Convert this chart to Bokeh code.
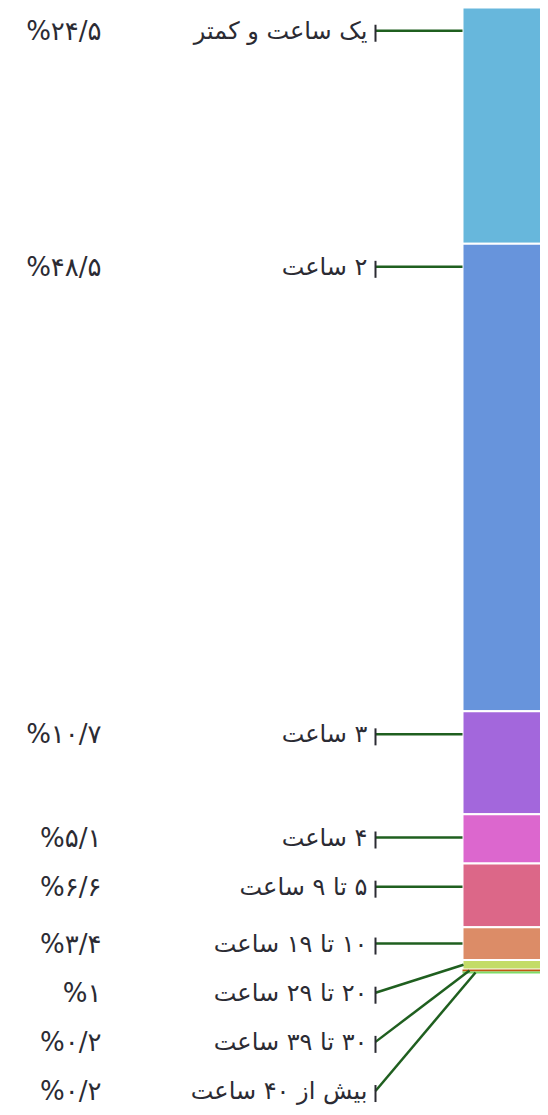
from bokeh.plotting import figure
from bokeh.models import Range1d, ColumnDataSource
from bokeh.core.properties import value
from bokeh.embed import file_html
from bokeh.resources import INLINE

# ---- data ----
categories = ["یک ساعت و کمتر", "۲ ساعت", "۳ ساعت", "۴ ساعت", "۵ تا ۹ ساعت",
              "۱۰ تا ۱۹ ساعت", "۲۰ تا ۲۹ ساعت", "۳۰ تا ۳۹ ساعت", "بیش از ۴۰ ساعت"]
values = [24.5, 48.5, 10.7, 5.1, 6.6, 3.4, 1.0, 0.2, 0.2]
colors = ["#67b7dc", "#6794dc", "#a367dc", "#dc67ce", "#dc6788",
          "#dc8c67", "#c3dc67", "#c0590f", "#7ddc67"]

# ---- layout ----
W, H = 540, 1107
PX_PER_PCT = 9.64
BAR_TOP_PX = 7
Y_TOP = -BAR_TOP_PX / PX_PER_PCT
Y_BOTTOM = Y_TOP + H / PX_PER_PCT
BAR_LEFT, BAR_RIGHT = 462, 548
TICK_X = 375
CAT_X = 367
PCT_X = 101
FONT = "DejaVu Sans"

fa_digits = str.maketrans("0123456789.", "۰۱۲۳۴۵۶۷۸۹/")


def fa_pct(v):
    return "%" + f"{v:g}".translate(fa_digits)


tops, bottoms = [], []
acc = 0.0
for v in values:
    tops.append(acc)
    acc += v
    bottoms.append(acc)
centers = [(t + b) / 2 for t, b in zip(tops, bottoms)]

# label positions: near top of each segment, with minimum spacing
label_y = []
min_gap = 5.1
for i in range(len(values)):
    y = min(centers[i], tops[i] + 2.4)
    if label_y:
        y = max(y, label_y[-1] + min_gap)
    label_y.append(y)

p = figure(width=W, height=H, output_backend="svg", toolbar_location=None,
           x_range=Range1d(0, W), y_range=Range1d(Y_BOTTOM, Y_TOP),
           min_border=0, min_border_left=0, min_border_right=0,
           min_border_top=0, min_border_bottom=0)
p.axis.visible = False
p.grid.visible = False
p.outline_line_color = None
p.background_fill_color = "white"
p.border_fill_color = "white"

# bar segments
seg_h_px = [v * PX_PER_PCT for v in values]
bar_src = ColumnDataSource(dict(
    top=tops, bottom=bottoms, color=colors,
    lw=[2 if h > 5 else 0 for h in seg_h_px],
))
p.quad(left=BAR_LEFT, right=BAR_RIGHT, top="top", bottom="bottom",
       fill_color="color", line_color="white", line_width="lw", source=bar_src)

# leader lines
x0s, y0s, x1s, y1s = [], [], [], []
k = 0
for i in range(len(values)):
    x0s.append(TICK_X)
    y0s.append(label_y[i])
    if tops[i] <= label_y[i] <= bottoms[i]:
        x1s.append(BAR_LEFT)
        y1s.append(label_y[i])
    else:
        x1s.append(BAR_LEFT + 1 + 6 * k)
        y1s.append(min(centers[i], bottoms[i] - 0.05))
        k += 1
p.segment(x0=x0s, y0=y0s, x1=x1s, y1=y1s, line_color="#1f5f1f", line_width=2.5)

# small ticks
p.segment(x0=[TICK_X] * len(values), x1=[TICK_X] * len(values),
          y0=[y - 6 / PX_PER_PCT for y in label_y],
          y1=[y + 11 / PX_PER_PCT for y in label_y],
          line_color="#2b2b33", line_width=2)

# category labels (RTL)
p.text(x=[CAT_X] * len(values), y=label_y,
       text=["\u202b" + c + "\u202c" for c in categories],
       text_align="right", text_baseline="middle",
       text_font=value(FONT), text_font_size="24px", text_color="#2b2b33")

# percent labels
p.text(x=[PCT_X] * len(values), y=label_y,
       text=[fa_pct(v) for v in values],
       text_align="right", text_baseline="middle",
       text_font=value(FONT), text_font_size="26px", text_color="#2b2b33")

open("out.html", "w").write(file_html(p, INLINE))
